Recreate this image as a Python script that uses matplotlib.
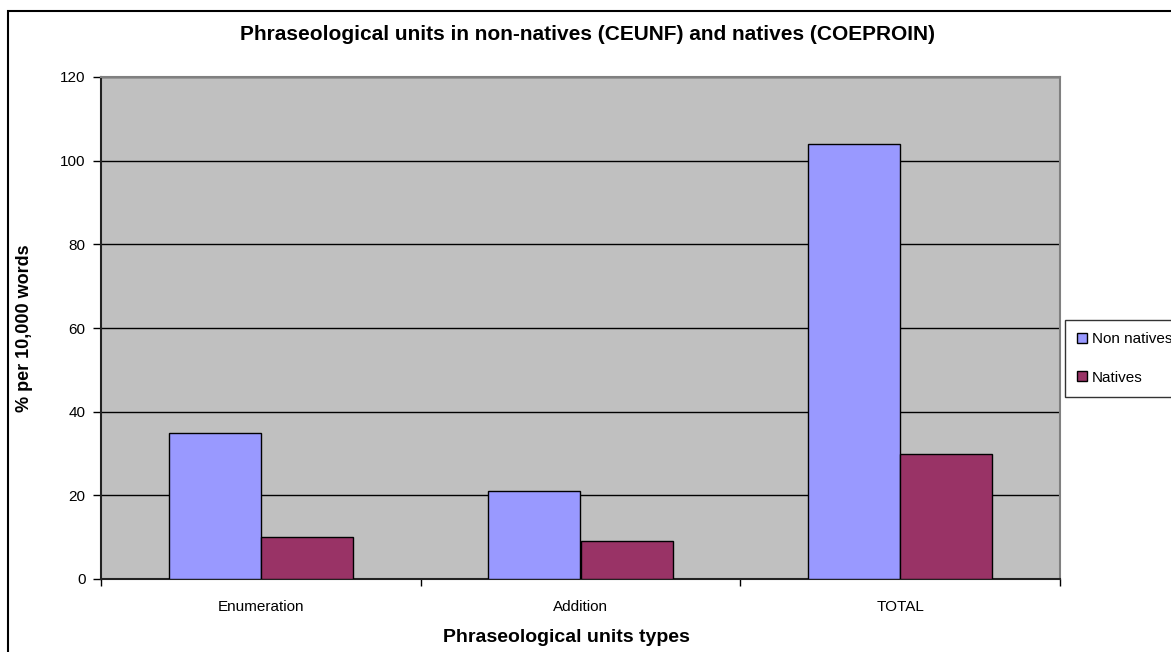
import numpy as np
import matplotlib as mpl
mpl.use('Agg')
from matplotlib import pyplot as plt
from matplotlib.patches import Rectangle

plt.rcParams['font.family'] = ['Liberation Sans', 'DejaVu Sans']

# data
categories = ['Enumeration', 'Addition', 'TOTAL']
non_natives = [35, 21, 104]
natives = [10, 9, 30]
series_names = ['Non natives', 'Natives']
y_ticks = [0, 20, 40, 60, 80, 100, 120]

W, H = 1171, 652
fig = plt.figure(figsize=(W / 100.0, H / 100.0), dpi=100)

# outer chart frame (right and bottom edges fall outside the picture)
fig.patches.append(Rectangle((8.0 / W, -0.05), 1.1, 1 - 11.0 / H + 0.05,
                             transform=fig.transFigure, fill=False,
                             edgecolor='black', linewidth=1.5))

ax = fig.add_axes([101.0 / W, 1 - 579.0 / H, 959.0 / W, 502.0 / H])
ax.set_facecolor('#c0c0c0')

x = np.arange(len(categories))
bw = 0.288
ax.bar(x - bw / 2, non_natives, bw, color='#9999ff', edgecolor='black',
       linewidth=1.0, label=series_names[0], zorder=3)
ax.bar(x + bw / 2, natives, bw, color='#993366', edgecolor='black',
       linewidth=1.0, label=series_names[1], zorder=3)

ax.set_xlim(-0.5, len(categories) - 0.5)
ax.set_ylim(0, 120)
ax.set_yticks(y_ticks)
ax.yaxis.grid(True, color='black', linewidth=1.0, zorder=1)
ax.set_axisbelow(True)

# category labels centred, tick marks on the boundaries
ax.set_xticks(x)
ax.set_xticklabels(categories, fontsize=11)
ax.tick_params(axis='x', length=0, pad=15)
ax.set_xticks(np.arange(len(categories) + 1) - 0.5, minor=True)
ax.tick_params(axis='x', which='minor', length=5, width=1, direction='out')
ax.tick_params(axis='y', length=6, width=1, direction='out', labelsize=11, pad=5)

for side in ['top', 'right']:
    ax.spines[side].set_color('#808080')
    ax.spines[side].set_linewidth(1.5)
for side in ['left', 'bottom']:
    ax.spines[side].set_color('#222222')
    ax.spines[side].set_linewidth(1.5)

ax.set_xlabel('Phraseological units types', fontsize=14, fontweight='bold')
ax.xaxis.set_label_coords((566.0 - 101) / 959, -(637.0 - 579) / 502, transform=ax.transAxes)
ax.xaxis.label.set_va('center')
fig.text(25.0 / W, 1 - 328.0 / H, '% per 10,000 words', rotation=90,
         fontsize=13, fontweight='bold', ha='center', va='center')
fig.text(588.0 / W, 1 - 35.0 / H,
         'Phraseological units in non-natives (CEUNF) and natives (COEPROIN)',
         fontsize=15, fontweight='bold', ha='center', va='center')

leg = fig.legend(loc='upper left', bbox_to_anchor=(1065.0 / W, 1 - 320.0 / H),
                 fontsize=11, frameon=True, fancybox=False, handlelength=0.65,
                 handleheight=0.65, handletextpad=0.3, labelspacing=1.6,
                 borderpad=0.8, borderaxespad=0)
leg.get_frame().set_edgecolor('black')
leg.get_frame().set_linewidth(1.0)

plt.savefig('out.png', dpi=100)
